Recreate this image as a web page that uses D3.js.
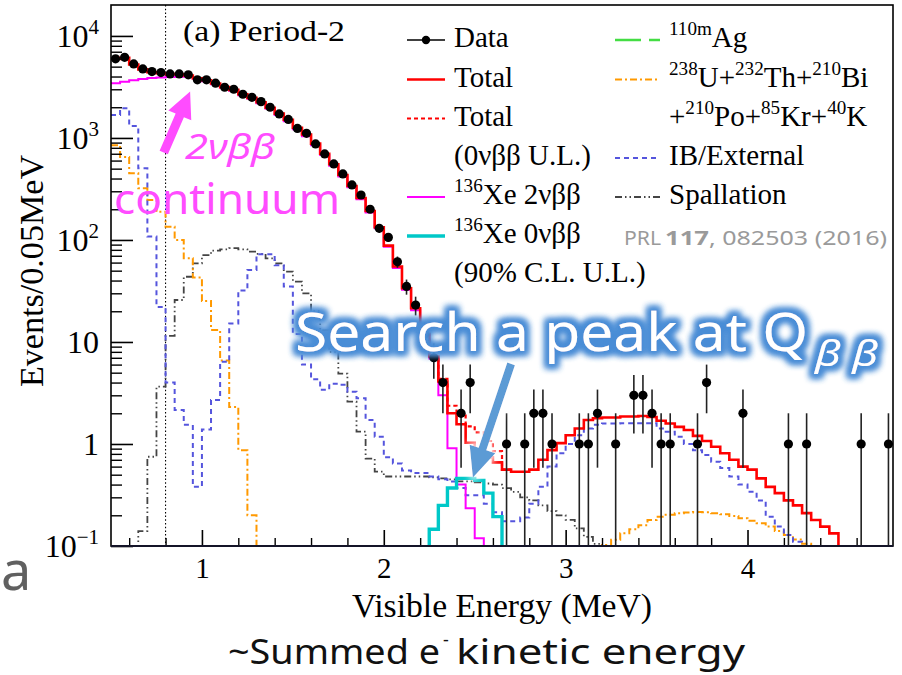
<!DOCTYPE html>
<html>
<head>
<meta charset="utf-8">
<title>Period-2 visible energy spectrum</title>
<script src="https://cdn.jsdelivr.net/npm/d3@7/dist/d3.min.js"></script>
<style>
html,body{margin:0;padding:0;background:#fff;}
svg{display:block;}
</style>
</head>
<body>
<svg id="chart" width="902" height="675"></svg>
<script>
// ---------------------------------------------------------------
// Spectrum contents in 0.05 MeV bins; each series lists the value
// of consecutive bins starting at the given lower bin edge (MeV).
// ---------------------------------------------------------------
const binWidth = 0.05;
const energyRange = [0.5, 4.8];
const countRange = [0.1, 20100];
const cutEnergy = 0.8;

const dataStart = 0.50;
const dataCounts = [
  5960, 6170, 5310, 4750, 4470, 4370, 4240, 4240, 4160, 3710,
  3710, 3440, 3140, 3000, 2680, 2500, 2270, 2000, 1720, 1520,
  1240, 1110, 873, 697, 556, 444, 346, 276, 200, 130,
  106, 61, 35, 23, 12, 7, 4, 0, 2, 4,
  0, 0, 0, 1, 0, 1, 2, 2, 1, 0,
  0, 1, 1, 2, 0, 1, 0, 3, 3, 2,
  1, 1, 0, 0, 1, 4, 0, 0, 0, 2,
  0, 0, 0, 0, 1, 0, 1, 0, 0, 0,
  0, 0, 1, 0, 0, 1
];

const totalStart = 0.50;
const totalFit = [
  5950, 6100, 5250, 4700, 4400, 4300, 4220, 4200, 4100, 3850,
  3680, 3420, 3150, 2960, 2680, 2470, 2240, 1980, 1730, 1510,
  1260, 1080, 880, 700, 552, 434, 338, 258, 192, 133,
  88, 55, 33.6, 21.4, 12, 7.2, 4.1, 2.0, 1.56, 1.03,
  0.86, 0.74, 0.66, 0.56, 0.535, 0.535, 0.56, 0.70, 0.87, 1.02,
  1.22, 1.42, 1.72, 1.79, 1.82, 1.82, 1.86, 1.86, 1.88, 1.84,
  1.69, 1.59, 1.47, 1.37, 1.20, 1.07, 0.94, 0.81, 0.70, 0.60,
  0.56, 0.46, 0.38, 0.33, 0.28, 0.25, 0.21, 0.18, 0.155, 0.133
];

// total including the 0vbb upper limit (differs only around the Q-value)
const totalULStart = 2.20;
const totalUL = [12, 7.35, 4.35, 2.37, 2.02, 1.49, 1.30, 1.07, 0.85, 0.56];

const xe2nuStart = 0.50;
const xe2nu = [
  3440, 3560, 3680, 3780, 3860, 3920, 3960, 3980, 3970, 3800,
  3600, 3360, 3100, 2900, 2620, 2420, 2190, 1930, 1680, 1460,
  1220, 1040, 850, 680, 535, 420, 328, 250, 186, 130,
  86, 53, 32.5, 20.5, 11.5, 6.9, 3.0, 0.91, 0.40, 0.234,
  0.119
];

const xe0nuStart = 2.25;
const xe0nu = [0.146, 0.25, 0.37, 0.46, 0.46, 0.44, 0.33, 0.194];

const ibStart = 0.50;
const ibExternal = [
  1680, 1950, 1310, 505, 108, 22, 4.0, 2.15, 1.54, 0.38,
  1.39, 2.7, 6.4, 15.2, 32, 50.7, 72.4, 72.4, 56.5, 34.9,
  12, 6, 4.3, 3.4, 3.9, 3.8, 3.26, 2.8, 1.72, 1.18,
  0.74, 0.645, 0.55, 0.52, 0.52, 0.48, 0.45, 0.43, 0.37, 0.315,
  0.315, 0.26, 0.214, 0.175, 0.175, 0.19, 0.26, 0.38, 0.60, 0.81,
  1.0, 1.22, 1.42, 1.54, 1.59, 1.59, 1.6, 1.6, 1.6, 1.6,
  1.42, 1.32, 1.18, 1.0, 0.87, 0.78, 0.67, 0.58, 0.48, 0.40,
  0.34, 0.28, 0.194, 0.155, 0.128, 0.11
];

const spallStart = 0.65;
const spallation = [
  0.14, 0.75, 3.65, 11.5, 25.8, 43.6, 59, 71, 78.5, 81,
  83, 81, 76.7, 73, 66, 59, 49, 39, 30, 20,
  13, 8, 4.9, 2.6, 1.32, 0.72, 0.535, 0.48, 0.48, 0.48,
  0.48, 0.48, 0.47, 0.46, 0.45, 0.43, 0.43, 0.42, 0.41, 0.40,
  0.37, 0.34, 0.30, 0.28, 0.25, 0.22, 0.20, 0.18, 0.149, 0.123,
  0.105
];

const uThLowStart = 0.50;
const uThLow = [850, 650, 450, 321, 247, 189, 135, 100, 66, 42.8, 25.2, 13.1, 6.6, 2.3, 0.87, 0.2];
const uThHighStart = 3.20;
const uThHigh = [
  0.102, 0.115, 0.133, 0.146, 0.16, 0.18, 0.194, 0.203, 0.21, 0.213,
  0.215, 0.214, 0.21, 0.205, 0.197, 0.187, 0.177, 0.167, 0.155, 0.14,
  0.128, 0.116, 0.105
];

// axis ticks
const xMajorTicks = [1, 2, 3, 4];
const xMinorTicks = [0.6, 0.8, 1.2, 1.4, 1.6, 1.8, 2.2, 2.4, 2.6, 2.8,
                     3.2, 3.4, 3.6, 3.8, 4.2, 4.4, 4.6];
const yMajorTicks = [0.1, 1, 10, 100, 1000, 10000];
const yTickBase = ["10", "1", "10", "10", "10", "10"];
const yTickExp  = ["\u22121", "", "", "2", "3", "4"];

// ---------------------------------------------------------------
const SERIF = "'Liberation Serif','Times New Roman',Times,serif";
const SANS = "'Noto Sans','Open Sans','Liberation Sans',Arial,sans-serif";

const svg = d3.select("#chart");
const plot = {left: 111, right: 893, top: 5, bottom: 546};

const x = d3.scaleLinear().domain(energyRange).range([plot.left, plot.right]);
const y = d3.scaleLog().domain(countRange).range([plot.bottom, plot.top]);

const defs = svg.append("defs");
defs.append("clipPath").attr("id", "frameClip")
  .append("rect")
  .attr("x", plot.left).attr("y", plot.top)
  .attr("width", plot.right - plot.left).attr("height", plot.bottom - plot.top);

// blue halo for the headline text
const glow = defs.append("filter").attr("id", "blueGlow")
  .attr("x", "-10%").attr("y", "-60%").attr("width", "120%").attr("height", "220%");
glow.append("feMorphology").attr("in", "SourceAlpha").attr("operator", "dilate").attr("radius", 4).attr("result", "thick");
glow.append("feGaussianBlur").attr("in", "thick").attr("stdDeviation", 3.4).attr("result", "soft");
glow.append("feFlood").attr("flood-color", "#4a8dd6").attr("result", "col");
glow.append("feComposite").attr("in", "col").attr("in2", "soft").attr("operator", "in").attr("result", "halo");
const gm = glow.append("feMerge");
gm.append("feMergeNode").attr("in", "halo");
gm.append("feMergeNode").attr("in", "halo");
gm.append("feMergeNode").attr("in", "SourceGraphic");

// soft white halo for the blue arrow
const wglow = defs.append("filter").attr("id", "whiteGlow")
  .attr("x", "-50%").attr("y", "-50%").attr("width", "200%").attr("height", "200%");
wglow.append("feMorphology").attr("in", "SourceAlpha").attr("operator", "dilate").attr("radius", 3).attr("result", "thick");
wglow.append("feGaussianBlur").attr("in", "thick").attr("stdDeviation", 3).attr("result", "soft");
wglow.append("feFlood").attr("flood-color", "#ffffff").attr("flood-opacity", 0.85).attr("result", "col");
wglow.append("feComposite").attr("in", "col").attr("in2", "soft").attr("operator", "in").attr("result", "halo");
const wm = wglow.append("feMerge");
wm.append("feMergeNode").attr("in", "halo");
wm.append("feMergeNode").attr("in", "SourceGraphic");

// ---------------------------------------------------------------
// histogram outline (ROOT-like step line, clipped to the frame)
const floorY = plot.bottom + 6;
const yv = v => (v > countRange[0] ? y(v) : floorY);
const stepLine = d3.line()
  .x(d => x(d[0]))
  .y(d => yv(d[1]))
  .curve(d3.curveStepAfter);

function histPoints(start, values, open) {
  const pts = [];
  const atEdge = Math.abs(start - energyRange[0]) < 1e-9;
  if (!atEdge && !open) pts.push([start, 0]);
  values.forEach((v, i) => pts.push([start + i * binWidth, v]));
  const end = start + values.length * binWidth;
  pts.push([end, values[values.length - 1]]);
  if (end < energyRange[1] - 1e-9 && !open) pts.push([end, 0]);
  return pts;
}

const hists = svg.append("g").attr("clip-path", "url(#frameClip)");

function drawHist(start, values, style, open) {
  hists.append("path")
    .attr("d", stepLine(histPoints(start, values, open)))
    .attr("fill", "none")
    .attr("stroke", style.color)
    .attr("stroke-width", style.width)
    .attr("stroke-dasharray", style.dash || null)
    .attr("stroke-linejoin", "miter");
}

const styles = {
  total:   {color: "#ff0000", width: 2.6},
  totalUL: {color: "#ff0000", width: 2.2, dash: "4,3"},
  xe2nu:   {color: "#ff00ff", width: 2},
  xe0nu:   {color: "#00c8c8", width: 3.4},
  ag:      {color: "#44dd44", width: 2.6, dash: "26,8"},
  uth:     {color: "#ff9900", width: 2, dash: "7,3,2,3"},
  ib:      {color: "#5555dd", width: 2, dash: "5,4"},
  spall:   {color: "#444444", width: 1.8, dash: "7,3,1.5,3,1.5,3"}
};

// lower edge of the fit range
hists.append("line")
  .attr("x1", x(cutEnergy)).attr("x2", x(cutEnergy))
  .attr("y1", plot.top).attr("y2", plot.bottom)
  .attr("stroke", "#000").attr("stroke-width", 1.1).attr("stroke-dasharray", "1.5,2.2");

drawHist(spallStart, spallation, styles.spall);
drawHist(uThLowStart, uThLow, styles.uth);
drawHist(uThHighStart, uThHigh, styles.uth);
drawHist(ibStart, ibExternal, styles.ib);
drawHist(xe2nuStart, xe2nu, styles.xe2nu);
drawHist(xe0nuStart, xe0nu, styles.xe0nu);
drawHist(totalULStart, totalUL, styles.totalUL, true);
drawHist(totalStart, totalFit, styles.total);

// data points with sqrt(N) error bars
const dataPts = dataCounts
  .map((n, i) => ({e: dataStart + (i + 0.5) * binWidth, n}))
  .filter(d => d.n > 0);

const dg = hists.append("g");
dg.selectAll("line.err").data(dataPts).join("line")
  .attr("class", "err")
  .attr("x1", d => x(d.e)).attr("x2", d => x(d.e))
  .attr("y1", d => yv(d.n + Math.sqrt(d.n)))
  .attr("y2", d => yv(d.n - Math.sqrt(d.n)))
  .attr("stroke", "#222").attr("stroke-width", 1.6);
dg.selectAll("circle").data(dataPts).join("circle")
  .attr("cx", d => x(d.e)).attr("cy", d => y(d.n)).attr("r", 4.6)
  .attr("fill", "#000");

// ---------------------------------------------------------------
// axes (ticks point into the frame)
function styleTicks(g, w) {
  g.select(".domain").remove();
  g.selectAll(".tick line").attr("stroke", "#000").attr("stroke-width", w);
}

svg.append("g").attr("transform", `translate(0,${plot.bottom})`)
  .call(d3.axisBottom(x).tickValues(xMinorTicks).tickSizeInner(-8).tickSizeOuter(0).tickFormat(""))
  .call(g => styleTicks(g, 1.4));

svg.append("g").attr("transform", `translate(0,${plot.bottom})`)
  .call(d3.axisBottom(x).tickValues(xMajorTicks).tickSizeInner(-16).tickSizeOuter(0)
        .tickPadding(11).tickFormat(d3.format("d")))
  .call(g => styleTicks(g, 1.6))
  .call(g => g.selectAll(".tick text")
        .attr("font-family", SERIF).attr("font-size", 29).attr("fill", "#000"));

const yMinorTicks = [];
for (let p = -1; p <= 4; p++) {
  for (let k = 2; k <= 9; k++) {
    const v = k * Math.pow(10, p);
    if (v < 19000) yMinorTicks.push(v);
  }
}
svg.append("g").attr("transform", `translate(${plot.left},0)`)
  .call(d3.axisLeft(y).tickValues(yMinorTicks).tickSizeInner(-11).tickSizeOuter(0).tickFormat(""))
  .call(g => styleTicks(g, 1.4));

svg.append("g").attr("transform", `translate(${plot.left},0)`)
  .call(d3.axisLeft(y).tickValues(yMajorTicks).tickSizeInner(-22).tickSizeOuter(0)
        .tickPadding(12).tickFormat((d, i) => yTickBase[i]))
  .call(g => styleTicks(g, 1.6))
  .call(g => g.selectAll(".tick text")
        .attr("font-family", SERIF).attr("font-size", 32).attr("fill", "#000")
        .each(function (d, i) {
          const t = d3.select(this);
          t.text(null);
          t.append("tspan").text(yTickBase[i]);
          if (yTickExp[i]) t.append("tspan").attr("dy", -13).attr("font-size", 21).text(yTickExp[i]);
        }));

// frame
svg.append("rect")
  .attr("x", plot.left).attr("y", plot.top)
  .attr("width", plot.right - plot.left).attr("height", plot.bottom - plot.top)
  .attr("fill", "none").attr("stroke", "#000").attr("stroke-width", 1.6);
svg.append("line")
  .attr("x1", plot.left).attr("x2", plot.right).attr("y1", plot.bottom).attr("y2", plot.bottom)
  .attr("stroke", "#141428").attr("stroke-width", 2.2);

// axis titles
svg.append("text")
  .attr("transform", "translate(43,271) rotate(-90)")
  .attr("text-anchor", "middle").attr("font-family", SERIF).attr("font-size", 34)
  .attr("textLength", 232).attr("lengthAdjust", "spacingAndGlyphs")
  .text("Events/0.05MeV");
svg.append("text")
  .attr("x", 352).attr("y", 617)
  .attr("font-family", SERIF).attr("font-size", 33)
  .attr("textLength", 300).attr("lengthAdjust", "spacingAndGlyphs")
  .text("Visible Energy (MeV)");

svg.append("text")
  .attr("x", 183).attr("y", 41)
  .attr("font-family", SERIF).attr("font-size", 30)
  .attr("textLength", 162).attr("lengthAdjust", "spacingAndGlyphs")
  .text("(a) Period-2");

// ---------------------------------------------------------------
// legend
function richText(sel, str, size) {
  const parts = str.split(/(\^\{[^}]*\})/).filter(s => s.length);
  let raised = false;
  parts.forEach(p => {
    if (p.startsWith("^{")) {
      sel.append("tspan").attr("font-size", size * 0.66).attr("dy", raised ? 0 : -size * 0.4)
        .text(p.slice(2, -1));
      raised = true;
    } else {
      sel.append("tspan").attr("font-size", size).attr("dy", raised ? size * 0.4 : 0).text(p);
      raised = false;
    }
  });
}

const legendRows = [40, 79.5, 118.5, 158, 197, 236, 275];
const legendLeft = [
  {text: "Data", key: "data"},
  {text: "Total", key: "total"},
  {text: "Total", key: "totalUL"},
  {text: "(0\u03bd\u03b2\u03b2 U.L.)", key: null},
  {text: "^{136}Xe 2\u03bd\u03b2\u03b2", key: "xe2nu"},
  {text: "^{136}Xe 0\u03bd\u03b2\u03b2", key: "xe0nu"},
  {text: "(90% C.L. U.L.)", key: null}
];
const legendRight = [
  {text: "^{110m}Ag", key: "ag"},
  {text: "^{238}U+^{232}Th+^{210}Bi", key: "uth"},
  {text: "+^{210}Po+^{85}Kr+^{40}K", key: null},
  {text: "IB/External", key: "ib"},
  {text: "Spallation", key: "spall"}
];

const lg = svg.append("g").attr("font-family", SERIF).attr("fill", "#000");
function legendColumn(items, x0, x1, tx) {
  items.forEach((it, i) => {
    const cy = legendRows[i];
    if (it.key === "data") {
      lg.append("line").attr("x1", x0).attr("x2", x1).attr("y1", cy).attr("y2", cy)
        .attr("stroke", "#000").attr("stroke-width", 1.4);
      lg.append("circle").attr("cx", (x0 + x1) / 2).attr("cy", cy).attr("r", 4.2).attr("fill", "#000");
    } else if (it.key) {
      const s = styles[it.key];
      lg.append("line").attr("x1", x0).attr("x2", x1).attr("y1", cy).attr("y2", cy)
        .attr("stroke", s.color).attr("stroke-width", s.width)
        .attr("stroke-dasharray", s.dash || null);
    }
    const t = lg.append("text").attr("x", tx).attr("y", cy + 7);
    richText(t, it.text, 29);
  });
}
legendColumn(legendLeft, 407, 445, 454);
legendColumn(legendRight, 615, 660, 669);

// publication reference
const ref = svg.append("g").attr("font-family", SANS).attr("fill", "#9a9a9a").attr("font-size", 20);
ref.append("text").attr("x", 624).attr("y", 245).attr("textLength", 37).attr("lengthAdjust", "spacingAndGlyphs").text("PRL");
ref.append("text").attr("x", 665).attr("y", 245).attr("font-weight", "bold").attr("textLength", 44).attr("lengthAdjust", "spacingAndGlyphs").text("117");
ref.append("text").attr("x", 709).attr("y", 245).attr("textLength", 178).attr("lengthAdjust", "spacingAndGlyphs").text(", 082503 (2016)");

// ---------------------------------------------------------------
// annotations
function arrowPoly(tail, tip, shaft, headLen, headW) {
  const dx = tip[0] - tail[0], dy = tip[1] - tail[1];
  const L = Math.hypot(dx, dy);
  const ux = dx / L, uy = dy / L, nx = -uy, ny = ux;
  const bx = tip[0] - ux * headLen, by = tip[1] - uy * headLen;
  return [
    [tail[0] + nx * shaft / 2, tail[1] + ny * shaft / 2],
    [bx + nx * shaft / 2, by + ny * shaft / 2],
    [bx + nx * headW / 2, by + ny * headW / 2],
    tip,
    [bx - nx * headW / 2, by - ny * headW / 2],
    [bx - nx * shaft / 2, by - ny * shaft / 2],
    [tail[0] - nx * shaft / 2, tail[1] - ny * shaft / 2]
  ].map(p => p.join(",")).join(" ");
}

// 2vbb continuum callout
svg.append("polygon")
  .attr("points", arrowPoly([x(0.79), y(720)], [x(0.935), y(2850)], 9, 26, 25))
  .attr("fill", "#ff4cff");
svg.append("text")
  .attr("x", 185).attr("y", 159)
  .attr("font-family", SANS).attr("font-style", "italic").attr("font-size", 35)
  .attr("fill", "#ff4cff")
  .attr("textLength", 90).attr("lengthAdjust", "spacingAndGlyphs")
  .text("2\u03bd\u03b2\u03b2");
svg.append("text")
  .attr("x", 114).attr("y", 214)
  .attr("font-family", SANS).attr("font-size", 41)
  .attr("fill", "#ff4cff")
  .attr("textLength", 226).attr("lengthAdjust", "spacingAndGlyphs")
  .text("continuum");

// Q-value search callout
svg.append("polygon")
  .attr("points", arrowPoly([x(2.70), y(6.1)], [x(2.49), y(0.47)], 8, 30, 27))
  .attr("fill", "#5b9bd5")
  .attr("filter", "url(#whiteGlow)");

const head = svg.append("g").attr("filter", "url(#blueGlow)").attr("fill", "#ffffff");
head.append("text")
  .attr("x", 295).attr("y", 351)
  .attr("font-family", SANS).attr("font-size", 53)
  .attr("textLength", 513).attr("lengthAdjust", "spacingAndGlyphs")
  .text("Search a peak at Q");
head.append("text")
  .attr("x", 815).attr("y", 366)
  .attr("font-family", SANS).attr("font-style", "italic").attr("font-size", 34)
  .attr("textLength", 63).attr("lengthAdjust", "spacingAndGlyphs")
  .text("\u03b2 \u03b2");

// bottom caption
const cap = svg.append("g").attr("font-family", SANS).attr("fill", "#111");
cap.append("text").attr("x", 228).attr("y", 664).attr("font-size", 34)
  .attr("textLength", 212).attr("lengthAdjust", "spacingAndGlyphs").text("~Summed e");
cap.append("text").attr("x", 443).attr("y", 646).attr("font-size", 18).text("-");
cap.append("text").attr("x", 456).attr("y", 664).attr("font-size", 34)
  .attr("textLength", 289).attr("lengthAdjust", "spacingAndGlyphs").text("kinetic energy");

// slide letter at the lower left
svg.append("text").attr("x", 1).attr("y", 590)
  .attr("font-family", SANS).attr("font-size", 54).attr("fill", "#606060").text("a");
</script>
</body>
</html>
